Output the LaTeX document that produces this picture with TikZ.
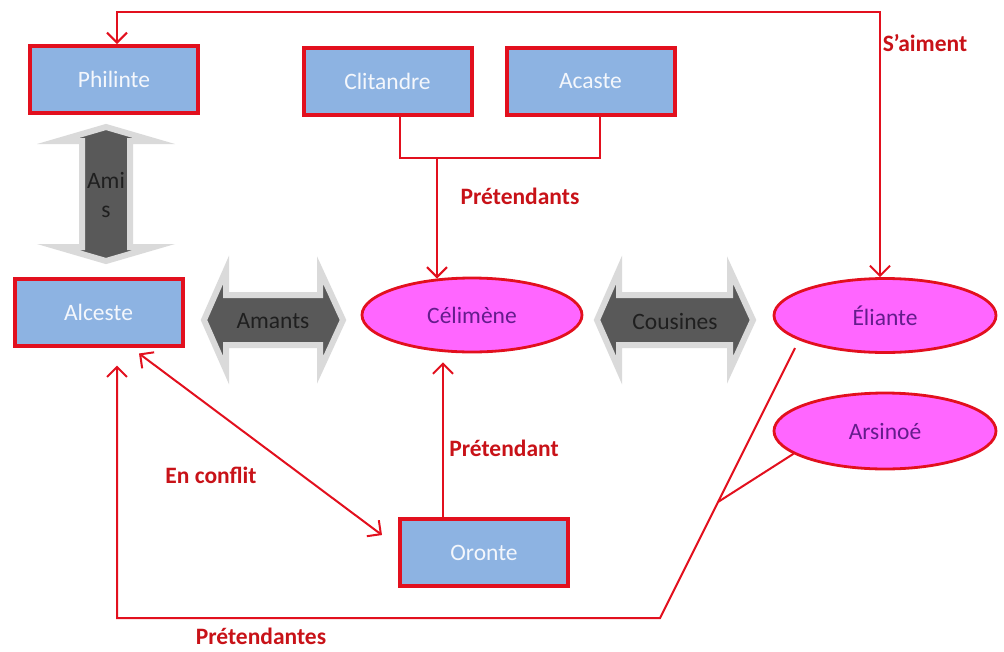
\documentclass[tikz,border=0pt]{standalone}
\usepackage{fontspec}
\setmainfont{Carlito}
\usetikzlibrary{arrows.meta,shapes.geometric}
\definecolor{lnred}{RGB}{226,16,30}
\definecolor{lblred}{RGB}{200,18,24}
\definecolor{boxblue}{RGB}{141,179,226}
\definecolor{boxtext}{RGB}{244,247,252}
\definecolor{pinkfill}{RGB}{255,102,255}
\definecolor{purpletxt}{RGB}{100,28,140}
\definecolor{arrowdark}{RGB}{89,89,89}
\definecolor{arrowedge}{RGB}{218,218,218}
\begin{document}
\begin{tikzpicture}[x=1pt,y=-1pt,
  every node/.style={font=\fontsize{23.5}{29}\selectfont},
  person/.style={rectangle, draw=lnred, line width=4pt, fill=boxblue, minimum width=168pt, minimum height=67pt, text=boxtext, inner sep=0pt},
  lady/.style={ellipse, draw=lnred, line width=2.8pt, fill=pinkfill, minimum width=220pt, minimum height=74pt, text=purpletxt, inner sep=0pt},
  conn/.style={draw=lnred, line width=2pt},
  >={Straight Barb[length=10pt,width=20pt]},
  lbl/.style={text=lblred, font=\fontsize{23.5}{29}\selectfont\bfseries},
  blockarrow/.style={fill=arrowdark, draw=arrowedge, line width=6pt, line join=miter},
  blocktext/.style={text=black!88}
]
\useasboundingbox (0,0) rectangle (1004,651);

% persons (boxes)
\node[person] (philinte) at (114,79.5) {Philinte};
\node[person] (clitandre) at (387.5,81.5) {Clitandre};
\node[person] (acaste) at (590.5,81) {Acaste};
\node[person] (alceste) at (98.5,312) {Alceste};
\node[person] (oronte) at (484,552.5) {Oronte};

% ladies (ellipses)
\node[lady] (celimene) at (472,315) {Célimène};
\node[lady, minimum width=222pt] (eliante) at (885,315.5) {Éliante};
\node[lady, minimum width=222pt, minimum height=76pt] (arsinoe) at (885,431) {Arsinoé};

% block arrows
\draw[blockarrow] (204,320) -- (226,270) -- (226,295) -- (320,295) -- (320,270) -- (343,320)
  -- (320,370) -- (320,345) -- (226,345) -- (226,370) -- cycle;
\node[blocktext] (amants) at (273,321) {Amants};
\draw[blockarrow] (597,320) -- (619,270) -- (619,295) -- (730,295) -- (730,270) -- (753,320)
  -- (730,370) -- (730,345) -- (619,345) -- (619,370) -- cycle;
\node[blocktext] (cousines) at (675,321) {Cousines};
\draw[blockarrow] (106,127) -- (154,141) -- (130,141) -- (130,247) -- (154,247) -- (106,261)
  -- (58,247) -- (82,247) -- (82,141) -- (58,141) -- cycle;
\node[blocktext, align=center] (amis) at (106,195) {Ami\\s};

% S'aiment
\coordinate (topline) at (500,12);
\coordinate (phin) at ([xshift=3pt]philinte.north);
\coordinate (elin) at ([xshift=-5pt]eliante.north);
\draw[conn,<->] (elin) |- (phin |- topline) -- (phin);
\node[lbl] (saiment) at (925,43) {S’aiment};

% Clitandre / Acaste -> Celimene
\coordinate (cls) at ([xshift=12.5pt]clitandre.south);
\coordinate (acs) at ([xshift=9.5pt]acaste.south);
\coordinate (brk) at (437,158);
\draw[conn] (cls) |- (acs |- brk) -- (acs);
\draw[conn,->] (brk) -- (brk |- celimene.134);
\node[lbl] (pretendants) at (520,196) {Prétendants};

% Oronte -> Celimene
\coordinate (orn) at ([xshift=-41pt]oronte.north);
\draw[conn,->,shorten >=9pt] (orn) -- (orn |- celimene.south);
\node[lbl] (pretendant) at (504,448) {Prétendant};

% En conflit
\draw[conn,<->,shorten <=10pt,shorten >=20pt] ([xshift=32.5pt]alceste.south) -- ([yshift=5.5pt]oronte.west);
\node[lbl] (conflit) at (211,475) {En conflit};

% Pretendantes
\coordinate (als) at ([xshift=18.5pt]alceste.south);
\coordinate (corner) at (660,618);
\coordinate (pend) at (795,348);
\coordinate (junct) at (718,502);
\draw[conn,<-,shorten <=18pt] (als) |- (corner) -- (pend);
\draw[conn] (junct) -- (arsinoe.194);
\node[lbl] (pretendantes) at (261,636) {Prétendantes};
\end{tikzpicture}
\end{document}
